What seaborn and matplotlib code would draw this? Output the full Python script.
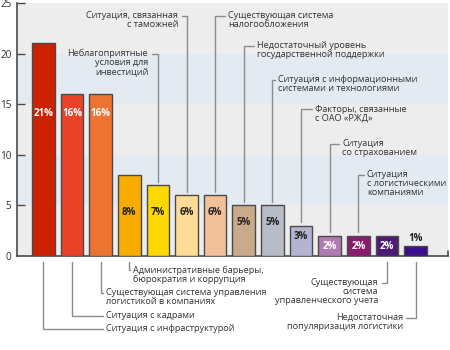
import matplotlib
matplotlib.use("Agg")
import matplotlib.pyplot as plt
import matplotlib.colors as mcolors
import seaborn as sns
import pandas as pd

# Factors hindering logistics development, share of respondents (%)
factors = [
    "Ситуация с инфраструктурой",
    "Ситуация с кадрами",
    "Существующая система управления\nлогистикой в компаниях",
    "Административные барьеры,\nбюрократия и коррупция",
    "Неблагоприятные\nусловия для\nинвестиций",
    "Ситуация, связанная\nс таможней",
    "Существующая система\nналогообложения",
    "Недостаточный уровень\nгосударственной поддержки",
    "Ситуация с информационными\nсистемами и технологиями",
    "Факторы, связанные\nс ОАО «РЖД»",
    "Ситуация\nсо страхованием",
    "Ситуация\nс логистическими\nкомпаниями",
    "Существующая\nсистема\nуправленческого учета",
    "Недостаточная\nпопуляризация логистики",
]
shares = [21, 16, 16, 8, 7, 6, 6, 5, 5, 3, 2, 2, 2, 1]
bar_colors = [
    "#cc2200", "#e84228", "#ef7330", "#f8ac00", "#ffd800", "#ffdc96",
    "#f2c09a", "#c9aa8a", "#b8bcc6", "#b4b4d2", "#b07bb0", "#8c1b6e",
    "#4e1a78", "#3c0f8c",
]
y_ticks = [0, 5, 10, 15, 20, 25]

# Callout placement: (bar index, text x, text y of first line, side, align)
callouts = [
    (0, 2.19, -7.19, "below", "left"),
    (1, 2.19, -5.90, "below", "left"),
    (2, 2.19, -3.64, "below", "left"),
    (3, 3.13, -1.38, "below", "left"),
    (4, 3.66, 20.0, "above", "right"),
    (5, 4.71, 23.7, "above", "right"),
    (6, 6.45, 23.7, "above", "left"),
    (7, 7.46, 20.8, "above", "left"),
    (8, 8.20, 17.4, "above", "left"),
    (9, 9.49, 14.5, "above", "left"),
    (10, 10.43, 11.1, "above", "left"),
    (11, 11.30, 8.0, "above", "left"),
    (12, 11.69, -2.66, "below", "right"),
    (13, 12.56, -6.10, "below", "right"),
]

FONT = ["Open Sans", "DejaVu Sans"]
TEXT_COLOR = "#333333"
LINE_COLOR = "#8c8c8c"

sns.set_theme(style="white")
plt.rcParams["font.family"] = FONT

fig = plt.figure(figsize=(4.5, 3.5), dpi=100)
ax = fig.add_axes([17 / 450, 1 - 256 / 350, 431 / 450, 253 / 350])

# Alternating horizontal bands behind the bars
band_colors = ["#ededed", "#e4eaf2"]
for i in range(len(y_ticks) - 1):
    ax.axhspan(y_ticks[i], y_ticks[i + 1], color=band_colors[i % 2], zorder=0, lw=0)

df = pd.DataFrame({"factor": factors, "share": shares})
sns.barplot(
    data=df, x="factor", y="share", hue="factor", order=factors,
    hue_order=factors, palette=bar_colors, legend=False, width=0.79,
    edgecolor="#4a4a4a", linewidth=1.0, saturation=1, ax=ax, zorder=3,
)

ax.set_xlim(-0.92, 14.13)
ax.set_ylim(0, 25)
ax.set_xlabel("")
ax.set_ylabel("")
ax.set_xticks([])
ax.set_yticks(y_ticks)
ax.set_yticklabels([str(t) for t in y_ticks], fontsize=7.2, color=TEXT_COLOR)
ax.tick_params(axis="y", direction="in", length=6, width=1, color="#4a4a4a", pad=4, left=True)
for side in ("top", "right"):
    ax.spines[side].set_visible(False)
for side in ("left", "bottom"):
    ax.spines[side].set_color("#4a4a4a")
    ax.spines[side].set_linewidth(1.2)
# hide the tick at zero (the baseline is there)
ax.yaxis.get_major_ticks()[0].tick1line.set_visible(False)
# small stub closing the baseline on the right
ax.plot([1, 1], [0, 0.02], transform=ax.transAxes, color="#4a4a4a", lw=1.2, clip_on=False)


def luminance(c):
    r, g, b = mcolors.to_rgb(c)
    lin = [x / 12.92 if x <= 0.04045 else ((x + 0.055) / 1.055) ** 2.4 for x in (r, g, b)]
    return 0.2126 * lin[0] + 0.7152 * lin[1] + 0.0722 * lin[2]


def label_y(v):
    if v > 10:
        return 14.1
    if v >= 6:
        return 4.3
    if v >= 4:
        return v - 1.65
    if v > 1:
        return v - 1.05
    return v + 0.7


# Percentage labels on the bars
for i, (v, c) in enumerate(zip(shares, bar_colors)):
    inside = v > 1
    col = "white" if (inside and luminance(c) < 0.4) else "#222222"
    ax.text(i, label_y(v), f"{v}%", ha="center", va="center", fontsize=7,
            fontweight="bold", color=col, zorder=5)

# Callout lines and labels
for idx, tx, ty, side, align in callouts:
    v = shares[idx]
    gap = 0.12 if align == "left" else -0.12
    if side == "above":
        y0 = v + 0.35
    else:
        y0 = -0.6
    ax.plot([idx, idx, tx - gap], [y0, ty, ty], color=LINE_COLOR, lw=1.0,
            clip_on=False, zorder=4, solid_joinstyle="miter")
    ax.text(tx, ty + 0.47, factors[idx], ha=align, va="top", fontsize=6.6,
            color=TEXT_COLOR, linespacing=1.0, clip_on=False, zorder=5,
            multialignment=align)

fig.savefig("out.png", dpi=100)
